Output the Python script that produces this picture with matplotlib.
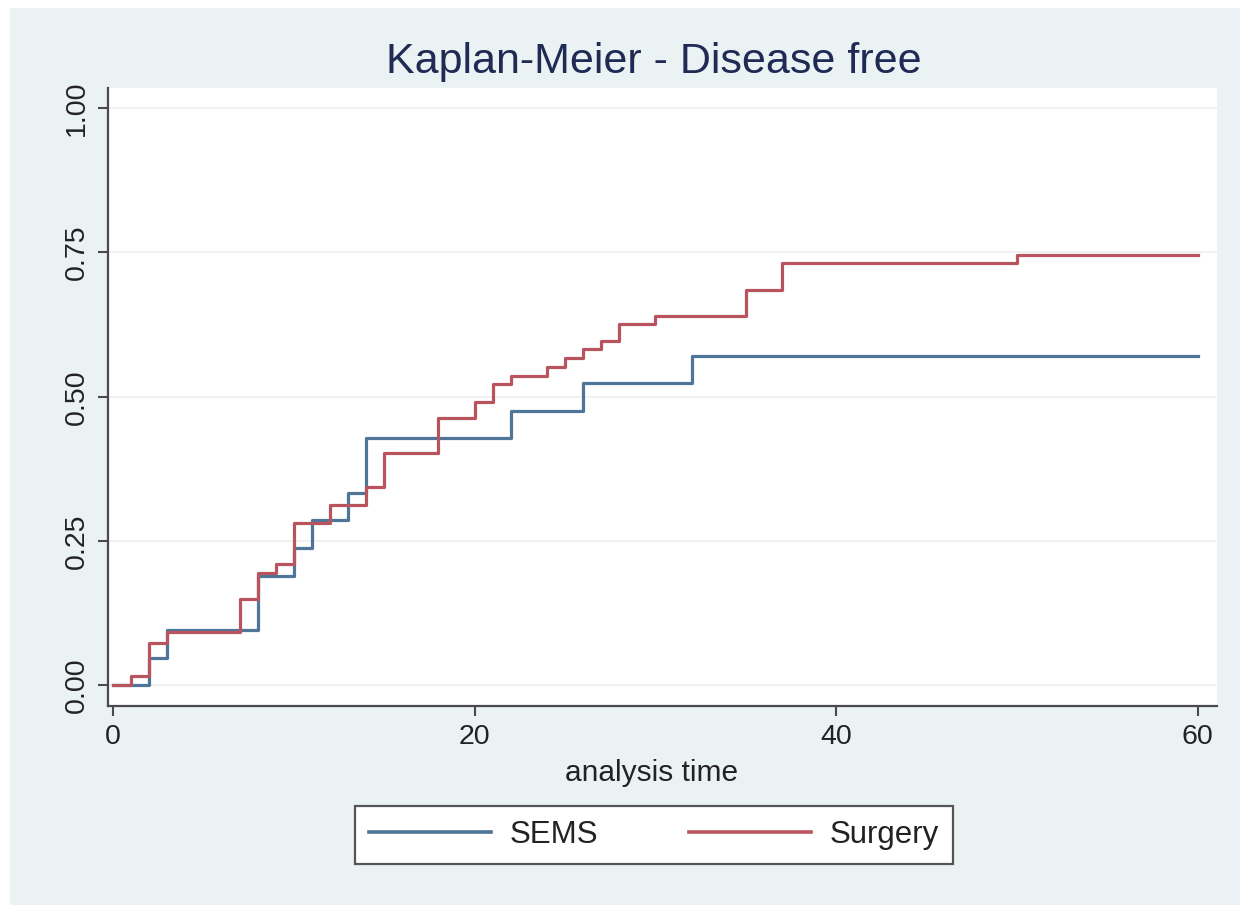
import matplotlib.pyplot as plt
from matplotlib.patches import Rectangle
from matplotlib.lines import Line2D

plt.rcParams['font.family'] = ['Liberation Sans', 'DejaVu Sans']

# Kaplan-Meier failure estimates
sems_time = [0, 2, 3, 8, 10, 11, 13, 14, 22, 26, 32, 60]
sems_fail = [0, 0.048, 0.095, 0.190, 0.238, 0.286, 0.333, 0.429, 0.476, 0.524, 0.571, 0.571]

surgery_time = [0, 1, 2, 3, 7, 8, 9, 10, 12, 14, 15, 18, 20, 21, 22, 24, 25, 26, 27, 28, 30, 35, 37, 50, 60]
surgery_fail = [0, 0.016, 0.073, 0.092, 0.149, 0.194, 0.210, 0.281, 0.312, 0.343, 0.402, 0.463, 0.490,
                0.522, 0.536, 0.551, 0.567, 0.582, 0.596, 0.626, 0.640, 0.685, 0.731, 0.746, 0.746]

x_ticks = [0, 20, 40, 60]
y_ticks = [0, 0.25, 0.5, 0.75, 1.0]
y_labels = ['0.00', '0.25', '0.50', '0.75', '1.00']

blue = '#4f7699'
red = '#b9545f'
bg = '#eaf2f3'
axis_col = '#4a4a4a'

W, H = 1252, 913
fig = plt.figure(figsize=(W / 100, H / 100), dpi=100, facecolor='white')

# light blue panel with a thin white margin
fig.patches.append(Rectangle((10 / W, 8 / H), 1 - 22 / W, 1 - 16 / H, transform=fig.transFigure,
                             facecolor=bg, edgecolor='none', zorder=-10))

ax = fig.add_axes([108 / W, (H - 706) / H, (1217 - 108) / W, (706 - 88) / H])
ax.set_facecolor('white')

ax.step(sems_time, sems_fail, where='post', color=blue, lw=2.3, label='SEMS')
ax.step(surgery_time, surgery_fail, where='post', color=red, lw=2.3, label='Surgery')

ax.set_xlim(-0.28, 61.06)
ax.set_ylim(-0.036, 1.035)
ax.set_xticks(x_ticks)
ax.set_yticks(y_ticks)
ax.set_yticklabels(y_labels, rotation=90, va='center')
for y in y_ticks:
    ax.axhline(y, color='#efefef', lw=1.2, zorder=0)

for s in ['top', 'right']:
    ax.spines[s].set_visible(False)
for s in ['left', 'bottom']:
    ax.spines[s].set_color(axis_col)
    ax.spines[s].set_linewidth(1.6)
ax.tick_params(axis='both', colors=axis_col, labelcolor='#222222', labelsize=20.5,
               length=7, width=1.5, pad=6)

fig.text(654 / W, 1 - 62 / H, 'Kaplan-Meier - Disease free', ha='center', va='center',
         fontsize=31, color='#1f2a55')
fig.text(652 / W, 1 - 773 / H, 'analysis time', ha='center', va='center',
         fontsize=21.5, color='#222222')

handles = [Line2D([], [], color=blue, lw=2.6), Line2D([], [], color=red, lw=2.6)]
leg = fig.legend(handles, ['SEMS', 'Surgery'], loc='center', bbox_to_anchor=(654 / W, 1 - 835 / H),
                 ncol=2, fontsize=22.5, frameon=True, fancybox=False, handlelength=3.9,
                 handletextpad=0.6, columnspacing=2.9, borderpad=0.45, borderaxespad=0)
leg.get_frame().set_edgecolor('#555555')
leg.get_frame().set_linewidth(1.6)
leg.get_frame().set_facecolor('white')
leg.get_frame().set_alpha(1)
for t in leg.get_texts():
    t.set_color('#222222')

fig.savefig('out.png', dpi=100, facecolor=fig.get_facecolor())
